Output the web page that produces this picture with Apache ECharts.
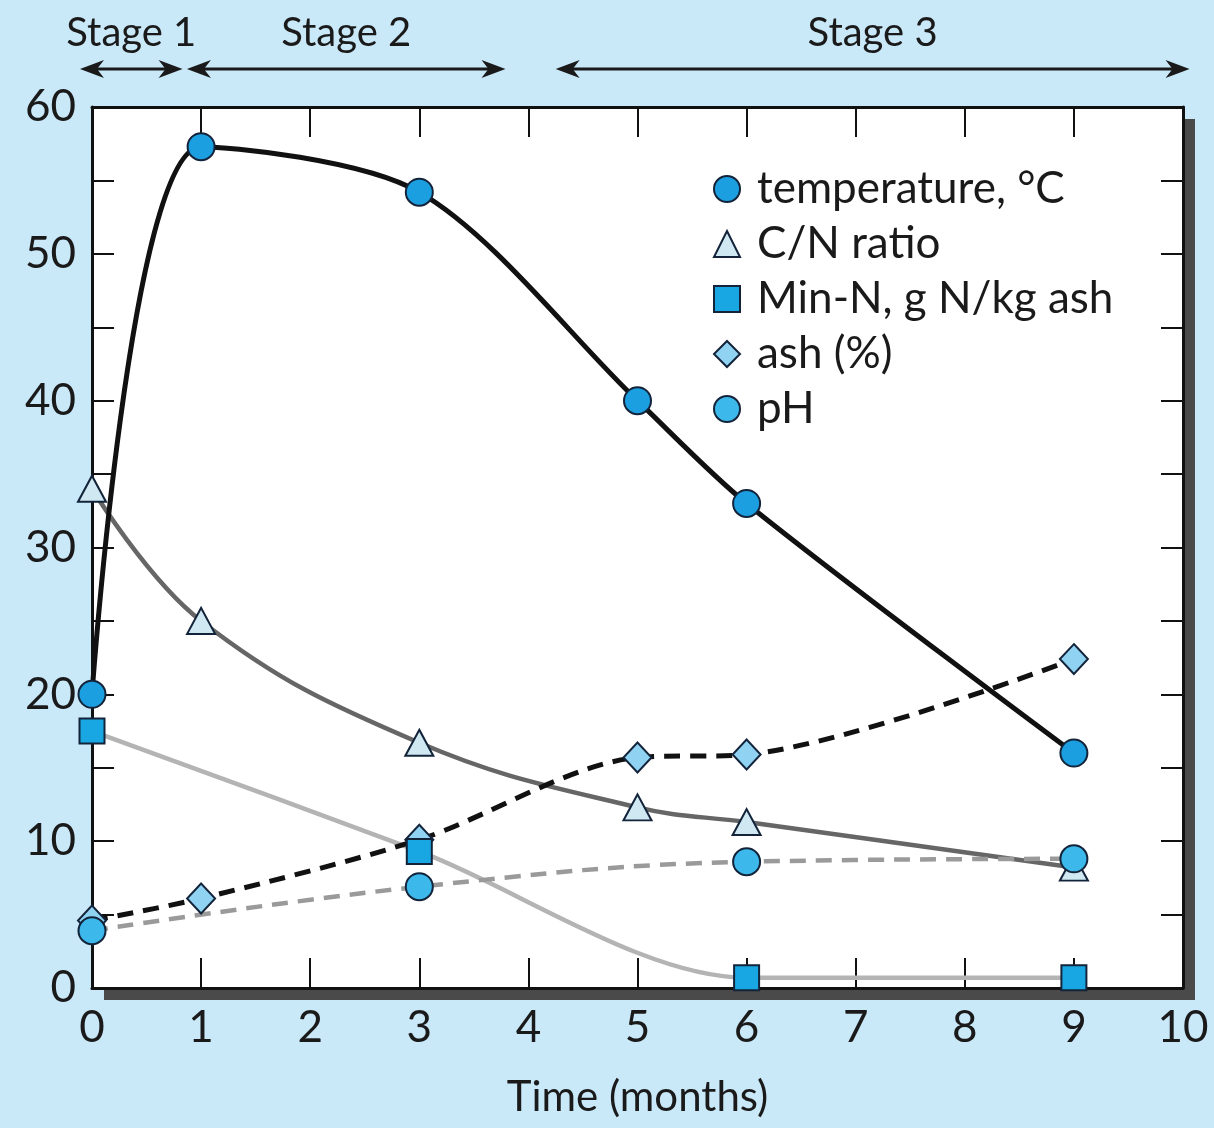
<!DOCTYPE html>
<html>
<head>
<meta charset="utf-8">
<script src="https://cdn.jsdelivr.net/npm/echarts@6/dist/echarts.min.js"></script>
<style>
html, body { margin: 0; padding: 0; background: #c9e8f8; }
#chart { width: 1214px; height: 1128px; }
</style>
</head>
<body>
<div id="chart"></div>
<script>
// values
var months = [0, 1, 3, 5, 6, 9];
var temperature = [20, 57.3, 54.2, 40, 33, 16];
var cnRatio = [34, 25, 16.7, 12.3, 11.3, 8.2];
var minNMonths = [0, 3, 6, 9];
var minN = [17.5, 9.3, 0.7, 0.7];
var ash = [4.6, 6.1, 10.1, 15.7, 15.9, 22.4];
var phMonths = [0, 3, 6, 9];
var ph = [3.9, 6.9, 8.6, 8.8];

var stageNames = ['Stage 1', 'Stage 2', 'Stage 3'];
var stageFrom = [-0.11, 0.87, 4.25];
var stageTo = [0.83, 3.79, 10.06];

var FONT = 'Lato';
var INK = '#1a1a1a';

function pts(xs, ys) {
    return xs.map(function (x, i) { return [x, ys[i]]; });
}

function lineSeries(name, xs, ys, color, width, dashed, smooth) {
    return {
        type: 'line',
        name: name,
        data: pts(xs, ys),
        smooth: smooth,
        symbol: 'none',
        silent: true,
        z: 2,
        lineStyle: { color: color, width: width, type: dashed ? [16, 10] : 'solid' }
    };
}

function markSeries(name, xs, ys, symbol, size, fill) {
    return {
        type: 'scatter',
        name: name,
        data: pts(xs, ys),
        symbol: symbol,
        symbolSize: size,
        z: 4,
        itemStyle: { color: fill, borderColor: '#13243a', borderWidth: 2, opacity: 1 }
    };
}

function frameAxis(kind, pos, max, interval, tickLen) {
    return {
        type: 'value', min: 0, max: max, interval: interval, position: pos,
        axisLine: { show: true, onZero: false, lineStyle: { color: '#111', width: 3 } },
        axisTick: { show: true, inside: true, length: tickLen, lineStyle: { color: '#111', width: 2 } },
        axisLabel: { show: false },
        splitLine: { show: false }
    };
}

var chart = echarts.init(document.getElementById('chart'));

var tickLabel = { show: true, fontFamily: FONT, fontSize: 44, color: INK };

var xBottom = frameAxis('x', 'bottom', 10, 1, 30);
xBottom.name = 'Time (months)';
xBottom.nameLocation = 'middle';
xBottom.nameGap = 88;
xBottom.nameTextStyle = { fontFamily: FONT, fontSize: 42, color: INK };
xBottom.axisLabel = Object.assign({ margin: 18 }, tickLabel);

var yLeft = frameAxis('y', 'left', 60, 5, 22);
yLeft.axisLabel = Object.assign({
    margin: 16,
    formatter: function (v) { return v % 10 === 0 ? String(v) : ''; }
}, tickLabel);

var option = {
    backgroundColor: '#c9e8f8',
    animation: false,
    grid: {
        left: 92, right: 31, top: 107, bottom: 140,
        show: true,
        backgroundColor: '#ffffff',
        borderWidth: 0,
        shadowColor: '#4a4a4a',
        shadowOffsetX: 12,
        shadowOffsetY: 12,
        shadowBlur: 0
    },
    xAxis: [xBottom, frameAxis('x', 'top', 10, 1, 30)],
    yAxis: [yLeft, frameAxis('y', 'right', 60, 5, 22)],
    legend: {
        orient: 'vertical',
        left: 708,
        top: 162,
        itemWidth: 26,
        itemHeight: 26,
        itemGap: 11,
        selectedMode: false,
        data: [
            { name: 'temperature, °C', icon: 'circle' },
            { name: 'C/N ratio', icon: 'triangle' },
            { name: 'Min-N, g N/kg ash', icon: 'rect' },
            { name: 'ash (%)', icon: 'diamond' },
            { name: 'pH', icon: 'circle' }
        ],
        textStyle: { fontFamily: FONT, fontSize: 44, color: INK, lineHeight: 44, padding: [0, 0, 0, 12] }
    },
    series: [
        lineSeries('cn-line', months, cnRatio, '#666666', 4.5, false, 0.4),
        lineSeries('minn-line', minNMonths, minN, '#b4b4b4', 4.5, false, 0.3),
        lineSeries('ph-line', phMonths, ph, '#9a9a9a', 4.5, true, 0.4),
        lineSeries('ash-line', months, ash, '#111111', 5, true, 0.3),
        lineSeries('temp-line', months, temperature, '#111111', 5, false, 0.3),
        markSeries('ash (%)', months, ash, 'diamond', [28, 30], '#8fd2f2'),
        markSeries('C/N ratio', months, cnRatio, 'triangle', [28, 26], '#cfe8f2'),
        markSeries('Min-N, g N/kg ash', minNMonths, minN, 'rect', 25, '#19a7e4'),
        markSeries('temperature, °C', months, temperature, 'circle', 27, '#1b9fe0'),
        markSeries('pH', phMonths, ph, 'circle', 27, '#3cb8eb')
    ]
};

chart.setOption(option);

// stage annotations above the plot
var graphics = [];
var arrowY = 69;
stageNames.forEach(function (name, i) {
    var x1 = chart.convertToPixel({ xAxisIndex: 0 }, stageFrom[i]);
    var x2 = chart.convertToPixel({ xAxisIndex: 0 }, stageTo[i]);
    graphics.push({
        type: 'line',
        shape: { x1: x1 + 6, y1: arrowY, x2: x2 - 6, y2: arrowY },
        style: { stroke: '#1a1a1a', lineWidth: 3 }
    });
    graphics.push({
        type: 'polygon',
        shape: { points: [[x1, arrowY], [x1 + 24, arrowY - 9], [x1 + 17, arrowY], [x1 + 24, arrowY + 9]] },
        style: { fill: '#1a1a1a' }
    });
    graphics.push({
        type: 'polygon',
        shape: { points: [[x2, arrowY], [x2 - 24, arrowY - 9], [x2 - 17, arrowY], [x2 - 24, arrowY + 9]] },
        style: { fill: '#1a1a1a' }
    });
    graphics.push({
        type: 'text',
        x: (x1 + x2) / 2,
        y: 33,
        style: {
            text: name, fontFamily: FONT, fontSize: 40, fill: INK,
            align: 'center', verticalAlign: 'middle'
        }
    });
});
chart.setOption({ graphic: graphics });
</script>
</body>
</html>
